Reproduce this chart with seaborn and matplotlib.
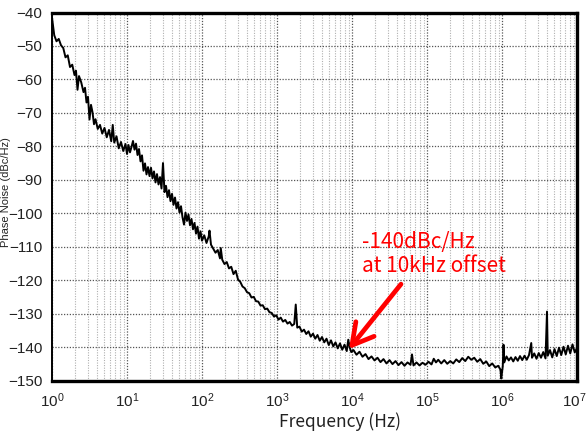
import pandas as pd
import seaborn as sns
import matplotlib.pyplot as plt
import matplotlib.transforms as mtransforms

# --- dados (log10 da frequência, dBc/Hz) ---
LOG_F_D0 = [0.00, 0.03, 0.06, 0.09, 0.12, 0.15, 0.18, 0.21, 0.24, 0.27, 0.30, 0.32, 0.34,
            0.36, 0.39, 0.42, 0.44, 0.46, 0.48, 0.50, 0.52, 0.54, 0.56, 0.58, 0.61, 0.64,
            0.67, 0.70, 0.73, 0.76, 0.79, 0.81, 0.83, 0.86, 0.89, 0.92, 0.95, 0.98]
PN_D0 = [-41.5, -46.8, -48.6, -47.9, -49.8, -50.6, -53.4, -52.8, -56.3, -55.6, -58.7, -57.4, -63.1,
         -59.0, -60.9, -63.8, -62.5, -66.9, -65.2, -72.0, -67.6, -69.8, -73.4, -71.9, -74.8, -73.6,
         -76.2, -74.5, -77.3, -75.1, -78.5, -73.6, -78.9, -77.0, -80.6, -78.7, -81.4, -79.3]

LOG_F_D1 = [1.00, 1.02, 1.04, 1.06, 1.08, 1.10, 1.12, 1.14, 1.16, 1.18, 1.20, 1.22, 1.24,
            1.26, 1.28, 1.30, 1.32, 1.34, 1.36, 1.38, 1.40, 1.42, 1.44, 1.46, 1.48, 1.50,
            1.52, 1.54, 1.56, 1.58, 1.60, 1.62, 1.64, 1.66, 1.68, 1.70, 1.72, 1.74, 1.76,
            1.78, 1.80, 1.82, 1.84, 1.86, 1.88, 1.90, 1.92, 1.94, 1.96, 1.98]
PN_D1 = [-82.3, -79.6, -81.8, -80.2, -78.4, -81.0, -79.2, -82.6, -80.8, -84.5, -82.7, -87.3, -85.1,
         -88.4, -86.2, -88.9, -86.4, -89.6, -87.5, -90.8, -88.3, -91.4, -89.2, -92.6, -85.0, -93.7,
         -91.8, -95.2, -93.1, -96.4, -94.2, -97.5, -95.3, -98.6, -96.7, -99.8, -97.9, -101.2, -103.4,
         -99.8, -102.3, -100.4, -103.6, -101.7, -104.8, -102.9, -106.1, -104.0, -107.6, -105.4]

LOG_F_D2 = [2.00, 2.03, 2.06, 2.09, 2.10, 2.12, 2.15, 2.18, 2.21, 2.24, 2.25, 2.27, 2.30,
            2.33, 2.36, 2.39, 2.42, 2.45, 2.48, 2.51, 2.54, 2.57, 2.60, 2.63, 2.66, 2.69,
            2.72, 2.75, 2.78, 2.81, 2.84, 2.87, 2.90, 2.93, 2.96, 2.99]
PN_D2 = [-108.2, -106.6, -108.9, -106.9, -105.2, -109.4, -110.6, -111.8, -111.0, -113.5, -110.4, -113.9, -115.2,
         -114.6, -116.5, -116.0, -118.2, -117.2, -119.8, -120.5, -121.9, -122.4, -123.6, -123.9, -125.2, -125.0,
         -126.3, -126.4, -127.6, -127.5, -128.7, -128.5, -129.6, -129.8, -130.9, -130.5]

LOG_F_D3 = [3.02, 3.05, 3.08, 3.11, 3.14, 3.17, 3.20, 3.23, 3.25, 3.27, 3.30, 3.33, 3.36,
            3.39, 3.42, 3.45, 3.48, 3.51, 3.54, 3.57, 3.60, 3.63, 3.66, 3.69, 3.72, 3.75,
            3.78, 3.81, 3.84, 3.87, 3.90, 3.93, 3.95, 3.97, 3.99]
PN_D3 = [-131.8, -131.2, -132.4, -131.9, -133.0, -132.5, -133.6, -133.1, -127.3, -134.2, -133.9, -135.4, -134.8,
         -136.1, -135.3, -136.9, -136.0, -137.5, -136.4, -138.1, -137.0, -138.6, -137.5, -139.4, -138.0, -139.8,
         -138.6, -140.4, -138.9, -140.8, -139.3, -141.2, -137.8, -140.2, -141.5]

LOG_F_D4 = [4.02, 4.06, 4.10, 4.14, 4.18, 4.22, 4.26, 4.30, 4.34, 4.38, 4.42, 4.46, 4.50,
            4.54, 4.58, 4.62, 4.66, 4.70, 4.74, 4.78, 4.80, 4.82, 4.86, 4.90, 4.94, 4.98]
PN_D4 = [-140.9, -142.3, -141.4, -142.9, -142.1, -143.6, -142.8, -144.0, -143.2, -144.5, -143.6, -144.9, -143.9,
         -145.1, -144.2, -145.4, -144.5, -145.6, -144.6, -145.3, -142.2, -145.5, -144.6, -145.5, -144.7, -145.3]

LOG_F_D5 = [5.02, 5.06, 5.09, 5.12, 5.15, 5.19, 5.23, 5.27, 5.31, 5.35, 5.39, 5.43, 5.47,
            5.51, 5.55, 5.59, 5.63, 5.67, 5.71, 5.75, 5.79, 5.83, 5.87, 5.91, 5.95, 5.98, 5.99]
PN_D5 = [-144.4, -145.2, -143.5, -144.6, -143.8, -144.9, -143.9, -145.0, -144.2, -144.9, -143.7, -144.5, -143.3,
         -144.2, -142.9, -143.8, -143.2, -144.4, -143.6, -145.0, -144.3, -145.7, -144.9, -146.1, -145.6, -146.8, -149.4]

LOG_F_D6 = [6.01, 6.02, 6.03, 6.06, 6.09, 6.12, 6.15, 6.18, 6.21, 6.24, 6.27, 6.30, 6.33,
            6.36, 6.39, 6.40, 6.43, 6.46, 6.49, 6.52, 6.55, 6.58, 6.60, 6.61, 6.64, 6.67,
            6.70, 6.73, 6.76, 6.79, 6.82, 6.85, 6.88, 6.91, 6.94, 6.97, 7.00]
PN_D6 = [-145.8, -139.3, -144.6, -142.8, -144.0, -143.1, -144.3, -143.0, -144.1, -142.7, -143.9, -142.6, -143.8,
         -142.4, -138.8, -143.2, -141.9, -143.5, -141.8, -143.2, -141.5, -143.4, -129.4, -142.6, -140.9, -143.1,
         -140.6, -142.7, -140.2, -142.4, -139.9, -142.2, -139.6, -141.9, -139.2, -141.6, -140.3]

X_TICKS = [1, 10, 100, 1e3, 1e4, 1e5, 1e6, 1e7]
X_LABELS = ['$10^0$', '$10^1$', '$10^2$', '$10^3$', '$10^4$', '$10^5$', '$10^6$', '$10^7$']
X_MINOR = [m * 10 ** d for d in range(7) for m in range(2, 10)]
Y_TICKS = [-150, -140, -130, -120, -110, -100, -90, -80, -70, -60, -50, -40]

log_f = LOG_F_D0 + LOG_F_D1 + LOG_F_D2 + LOG_F_D3 + LOG_F_D4 + LOG_F_D5 + LOG_F_D6
pn = PN_D0 + PN_D1 + PN_D2 + PN_D3 + PN_D4 + PN_D5 + PN_D6
df = pd.DataFrame({'freq': [10 ** v for v in log_f], 'pn': pn})

sns.set_style("white")
plt.rcParams['font.family'] = ['Liberation Sans', 'DejaVu Sans']
plt.rcParams['mathtext.default'] = 'regular'
LABEL_FONT = ['Noto Sans CJK KR', 'DejaVu Sans']

fig = plt.figure(figsize=(5.87, 4.33), dpi=100)
ax = fig.add_axes([52 / 587, 52.5 / 433, 525 / 587, 368 / 433])

sns.lineplot(data=df, x='freq', y='pn', ax=ax, color='black', lw=1.4,
             estimator=None, sort=False)

ax.set_xscale('log')
ax.set_xlim(1, 1e7)
ax.set_ylim(-150, -40)
ax.set_yticks(Y_TICKS)
ax.set_xticks(X_TICKS)
ax.set_xticklabels(X_LABELS)
ax.set_xticks(X_MINOR, minor=True)
ax.set_xticklabels([], minor=True)
ax.set_axisbelow(True)
ax.grid(which='major', axis='both', color='#555555', ls=(0, (1, 1.3)), lw=0.9)
ax.grid(which='minor', axis='x', color='#b0b0b0', ls=(0, (1, 1.3)), lw=0.8)
ax.tick_params(which='both', length=0)
ax.tick_params(axis='y', pad=7, labelsize=11, colors='#222222')
ax.tick_params(axis='x', pad=8, labelsize=11, colors='#222222')
ax.set_xlabel('')
ax.set_ylabel('')

# último rótulo (10^7) puxado um pouco para dentro
last = ax.get_xticklabels()[-1]
last.set_transform(last.get_transform() + mtransforms.ScaledTranslation(-3 / 100, 0, fig.dpi_scale_trans))

for side in ['top', 'bottom', 'right']:
    ax.spines[side].set_linewidth(2.4)
    ax.spines[side].set_color('black')
ax.spines['left'].set_linewidth(1.4)
ax.spines['left'].set_color('black')

# anotação em vermelho
ax.text(1.36e4, -105.4, '-140dBc/Hz\nat 10kHz offset', color='red', fontsize=15,
        family=LABEL_FONT, ha='left', va='top', linespacing=1.08)
ax.annotate('', xy=(9.1e3, -140.6), xytext=(4.5e4, -121.2),
            arrowprops=dict(arrowstyle='->,head_length=0.75,head_width=0.42', color='red',
                            lw=3.4, shrinkA=0, shrinkB=0, mutation_scale=20))

fig.text(340 / 587, 1 - 422 / 433, 'Frequency (Hz)', fontsize=12.5, family=LABEL_FONT,
         ha='center', va='center', color='#222222')
fig.text(11 / 587, 0.557, 'Phase Noise (dBc/Hz)', rotation=90, fontsize=8,
         ha='right', va='center', color='#222222')

fig.savefig('out.png', dpi=100)
